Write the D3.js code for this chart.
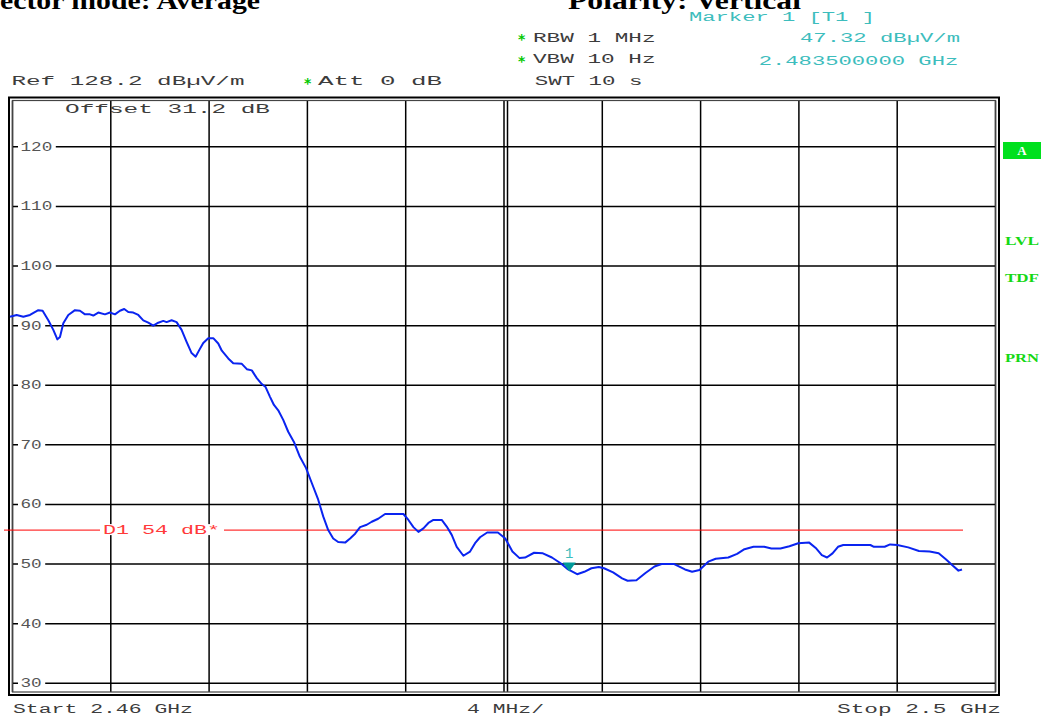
<!DOCTYPE html>
<html>
<head>
<meta charset="utf-8">
<script src="https://cdn.jsdelivr.net/npm/d3@7"></script>
<style>
  body { margin: 0; background: #fff; }
  svg { display: block; }
</style>
</head>
<body>
<script>
// Trace: offset from start (MHz) and level (dBuV/m).
const traceMHz = [0, 0.28, 0.56, 0.84, 1.19, 1.37, 1.61, 1.82, 1.99, 2.10,
  2.24, 2.45, 2.73, 2.94, 3.15, 3.36, 3.50, 3.71, 3.99, 4.20,
  4.41, 4.62, 4.80, 4.97, 5.18, 5.39, 5.60, 5.81, 6.02, 6.23,
  6.44, 6.58, 6.79, 7.00, 7.21, 7.42, 7.63, 7.80, 7.95, 8.12,
  8.33, 8.54, 8.75, 8.90, 9.17, 9.38, 9.74, 9.95, 10.16, 10.37,
  10.58, 10.74, 10.92, 11.09, 11.27, 11.48, 11.69, 11.93, 12.18, 12.44,
  12.68, 12.95, 13.16, 13.37, 13.58, 13.79, 14.08, 14.29, 14.50, 14.71,
  14.99, 15.20, 15.47, 15.76, 16.04, 16.53, 16.74, 16.95, 17.16, 17.37,
  17.58, 17.79, 18.14, 18.35, 18.56, 18.77, 19.05, 19.33, 19.54, 19.75,
  20.05, 20.50, 20.81, 21.11, 21.41, 21.64, 22.02, 22.39, 22.77, 23.15,
  23.45, 23.83, 24.13, 24.43, 24.74, 24.96, 25.34, 25.72, 25.95, 26.32,
  26.70, 27.08, 27.38, 27.91, 28.36, 28.66, 28.97, 29.34, 29.65, 30.18,
  30.55, 30.86, 31.24, 31.69, 31.99, 32.37, 32.75, 33.12, 33.58, 33.88,
  34.11, 34.33, 34.56, 34.79, 35.01, 36.15, 36.30, 36.75, 36.98, 37.28,
  37.74, 38.19, 38.64, 39.02, 39.32, 39.62, 39.85, 40.0];
const traceLevel = [91.5, 91.8, 91.5, 91.8, 92.6, 92.5, 90.9, 89.3, 87.7, 88.1,
  90.4, 91.8, 92.6, 92.5, 91.9, 91.9, 91.7, 92.2, 91.9, 92.2,
  91.9, 92.5, 92.8, 92.3, 92.2, 91.8, 90.9, 90.5, 90.0, 90.5,
  90.8, 90.6, 90.9, 90.6, 89.3, 87.3, 85.4, 84.8, 85.9, 87.1,
  87.9, 87.9, 87.0, 85.8, 84.5, 83.7, 83.6, 82.7, 82.5, 81.2,
  80.2, 79.7, 78.1, 76.7, 75.8, 74.2, 72.2, 70.5, 68.0, 66.1,
  63.6, 60.8, 58.0, 55.7, 54.3, 53.7, 53.6, 54.3, 55.1, 56.2,
  56.6, 57.1, 57.6, 58.4, 58.4, 58.4, 57.4, 56.2, 55.4, 56.0,
  56.9, 57.4, 57.4, 56.3, 54.9, 52.9, 51.4, 52.1, 53.5, 54.5,
  55.3, 55.3, 54.3, 52.1, 51.0, 51.1, 51.9, 51.8, 51.1, 50.1,
  49.1, 48.3, 48.7, 49.3, 49.5, 49.3, 48.6, 47.6, 47.2, 47.3,
  48.5, 49.6, 50.0, 50.0, 49.1, 48.7, 49.0, 50.4, 50.9, 51.1,
  51.7, 52.5, 52.9, 52.9, 52.6, 52.6, 53.0, 53.5, 53.6, 52.6,
  51.5, 51.1, 51.8, 52.9, 53.2, 53.2, 52.9, 52.9, 53.3, 53.2,
  52.8, 52.2, 52.1, 51.8, 50.8, 49.7, 48.9, 49.1];

const startMHz = 2460;
const stopMHz = 2500;
const refLevel = 128.2;
const levelTicks = [120, 110, 100, 90, 80, 70, 60, 50, 40, 30];
const divisions = [0, 1, 2, 3, 4, 5, 6, 7, 8, 9, 10];
const markerMHz = 2483.5;
const displayLineLevel = 55.7;   // D1 as it sits on screen

// Layout.
const W = 1041, H = 720;
const frame = {left: 12.5, right: 995.5, top: 100.5, bottom: 692};
const monoFont = '"Liberation Mono", "Courier New", monospace';
const grey = '#3c3c3c', teal = '#3dbdbd', green = '#14d814';

const svg = d3.select('body').append('svg')
  .attr('width', W).attr('height', H);

// Scales.
const xScale = d3.scaleLinear().domain([startMHz, stopMHz]).range([10, 962]);
const gridScale = d3.scaleLinear().domain([0, 10]).range([frame.left, frame.right]);
const yScale = d3.scaleLinear().domain([refLevel - 100, refLevel]).range([694, 98]);

// Text helper, the analyzer font is a stretched mono.
function label(g, str, x, y, w, opt) {
  opt = opt || {};
  const t = g.append('text')
    .attr('x', x).attr('y', y)
    .attr('font-family', opt.family || monoFont)
    .attr('font-size', opt.size || 12.5)
    .attr('font-weight', opt.weight || 'normal')
    .attr('fill', opt.color || grey)
    .text(str);
  if (w) t.attr('textLength', w).attr('lengthAdjust', 'spacingAndGlyphs');
  return t;
}
function star(x, y) {
  label(svg, '*', x, y, null, {family: '"DejaVu Sans", sans-serif', color: '#00c800', size: 14, weight: 'bold'});
}

// Titles, cut off at the top edge of the screenshot.
label(svg, 'ector mode: Average', 0, 9, 260,
  {family: '"Liberation Serif", "Times New Roman", serif', size: 26, weight: 'bold', color: '#000'});
label(svg, 'Polarity: Vertical', 568, 9, 233,
  {family: '"Liberation Serif", "Times New Roman", serif', size: 26, weight: 'bold', color: '#000'});

// Header.
label(svg, 'Ref  128.2 dB\u00b5V/m', 11.5, 85, 233);
star(304, 88);
label(svg, 'Att  0 dB', 318, 85, 124);
star(518, 44);
label(svg, 'RBW 1 MHz', 533, 41.7, 122.6);
star(518, 66);
label(svg, 'VBW 10 Hz', 533, 63.3, 122.6);
label(svg, 'SWT 10 s', 534.7, 85, 107.7);
label(svg, 'Marker 1 [T1 ]', 689, 20.7, 186, {color: teal});
label(svg, '47.32 dB\u00b5V/m', 800, 42, 160, {color: teal});
label(svg, '2.483500000 GHz', 758.7, 64.5, 199.6, {color: teal});

// Offset note sits under the grid lines.
label(svg, 'Offset  31.2 dB', 65, 113, 205);

// Grid.
const grid = svg.append('g');
grid.selectAll('line.h')
  .data(levelTicks)
  .enter().append('line')
  .attr('class', 'h')
  .attr('x1', frame.left).attr('x2', frame.right)
  .attr('y1', d => yScale(d)).attr('y2', d => yScale(d))
  .attr('stroke', '#000').attr('stroke-width', 1.5);
grid.selectAll('line.v')
  .data(divisions)
  .enter().append('line')
  .attr('class', 'v')
  .attr('x1', d => gridScale(d)).attr('x2', d => gridScale(d))
  .attr('y1', frame.top).attr('y2', frame.bottom)
  .attr('stroke', '#000').attr('stroke-width', 1.5);
// second line of the centre division
grid.append('line')
  .attr('x1', gridScale(5) + 3.5).attr('x2', gridScale(5) + 3.5)
  .attr('y1', frame.top).attr('y2', frame.bottom)
  .attr('stroke', '#000').attr('stroke-width', 1.5);

// Frame: double border.
svg.append('rect')
  .attr('x', 9).attr('y', 97.5).attr('width', 990).attr('height', 597.5)
  .attr('fill', 'none').attr('stroke', '#000').attr('stroke-width', 2);
svg.append('rect')
  .attr('x', frame.left).attr('y', frame.top)
  .attr('width', frame.right - frame.left).attr('height', frame.bottom - frame.top)
  .attr('fill', 'none').attr('stroke', '#444').attr('stroke-width', 1.2);

// Level labels sit in a gap of the grid line.
const tickG = svg.append('g');
levelTicks.forEach(v => {
  const s = String(v);
  const w = s.length * 10.6;
  tickG.append('rect')
    .attr('x', 18).attr('y', yScale(v) - 4)
    .attr('width', w + 6).attr('height', 8)
    .attr('fill', '#fff');
  label(tickG, s, 20.5, yScale(v) + 4, w, {size: 12, color: '#555'});
});

// Display line D1.
const d1y = yScale(displayLineLevel);
svg.append('line')
  .attr('x1', 4).attr('x2', 963)
  .attr('y1', d1y).attr('y2', d1y)
  .attr('stroke', '#ff0000').attr('stroke-width', 1);
svg.append('rect')
  .attr('x', 100).attr('y', d1y - 6).attr('width', 124).attr('height', 11)
  .attr('fill', '#fff');
label(svg, 'D1 54 dB*', 103, d1y + 4, 117, {color: '#ff3a3a'});

// Trace.
const trace = traceMHz.map((f, i) => ({f: startMHz + f, v: traceLevel[i]}));
const line = d3.line().x(d => xScale(d.f)).y(d => yScale(d.v));
svg.append('path')
  .datum(trace)
  .attr('d', line)
  .attr('fill', 'none')
  .attr('stroke', '#0a24f0')
  .attr('stroke-width', 2)
  .attr('stroke-linejoin', 'round');

// Marker 1 on the trace.
const bis = d3.bisector(d => d.f).left;
const k = bis(trace, markerMHz);
const a = trace[k - 1], b = trace[k];
const markerLevel = a.v + (b.v - a.v) * (markerMHz - a.f) / (b.f - a.f);
const mx = xScale(markerMHz), my = yScale(markerLevel) + 1.5;
svg.append('path')
  .attr('d', `M${mx - 6.5},${my - 9}L${mx + 6.5},${my - 9}L${mx},${my}Z`)
  .attr('fill', '#009a9a');
label(svg, '1', mx, my - 14, null, {color: teal, size: 14}).attr('text-anchor', 'middle');

// Footer.
label(svg, 'Start 2.46 GHz', 13, 713, 180);
label(svg, '4 MHz/', 467, 713, 77);
label(svg, 'Stop 2.5 GHz', 837, 713, 164);

// Side annotations.
svg.append('rect')
  .attr('x', 1003).attr('y', 142).attr('width', 38).attr('height', 17)
  .attr('fill', '#00e01e');
const sideFont = '"Liberation Serif", "Times New Roman", serif';
label(svg, 'A', 1022, 155, null, {family: sideFont, size: 13, weight: 'bold', color: '#fff'})
  .attr('text-anchor', 'middle');
label(svg, 'LVL', 1005, 245, 34, {family: sideFont, size: 12, weight: 'bold', color: green});
label(svg, 'TDF', 1005, 282, 34, {family: sideFont, size: 12, weight: 'bold', color: green});
label(svg, 'PRN', 1005, 362, 34, {family: sideFont, size: 12, weight: 'bold', color: green});
</script>
</body>
</html>
